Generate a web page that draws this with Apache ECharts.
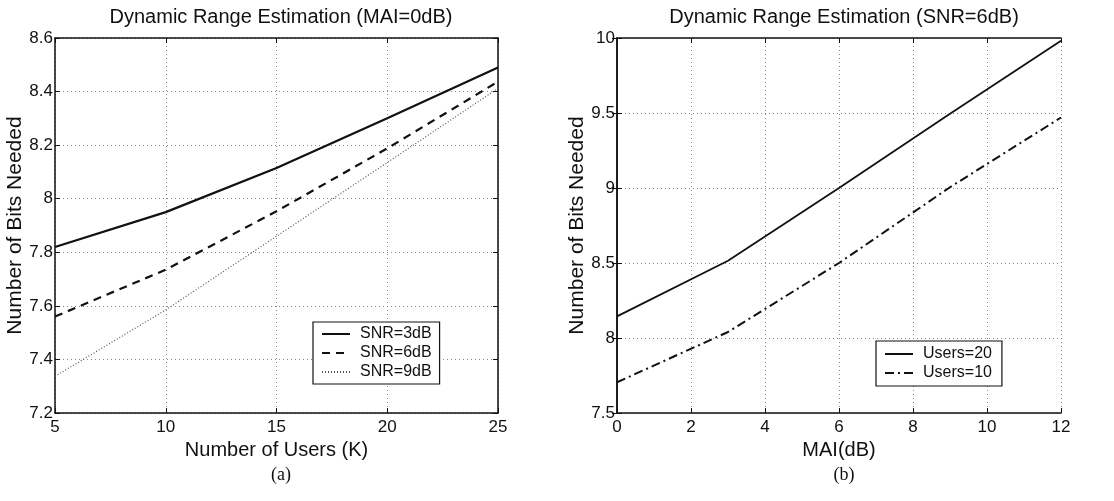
<!DOCTYPE html>
<html>
<head>
<meta charset="utf-8">
<script src="https://cdn.jsdelivr.net/npm/echarts@6/dist/echarts.min.js"></script>
<style>
  html, body { margin: 0; padding: 0; background: #fff; }
  #chart1 { width: 1114px; height: 501px; }
</style>
</head>
<body>
<div id="chart1"></div>
<script>
// (a) bits vs number of users, MAI = 0dB
var users = [5, 10, 15, 20, 25];
var snr3 = [7.82, 7.95, 8.115, 8.30, 8.49];
var snr6 = [7.56, 7.735, 7.953, 8.188, 8.437];
var snr9 = [7.337, 7.585, 7.86, 8.135, 8.412];

// (b) bits vs MAI, SNR = 6dB
var mai = [0, 3, 6, 9, 12];
var users20 = [8.144, 8.515, 9.0, 9.495, 9.982];
var users10 = [7.705, 8.04, 8.5, 9.005, 9.47];

function pairs(xs, ys) {
    return xs.map(function (x, i) { return [x, ys[i]]; });
}

var font = 'Liberation Sans';
var black = '#111';

var myChart = echarts.init(document.getElementById('chart1'));

// 公共坐标轴样式
function xAx(grid, min, max, step, name) {
    return {
        type: 'value', gridIndex: grid, min: min, max: max, interval: step,
        name: name, nameLocation: 'middle', nameGap: 22,
        nameTextStyle: { fontFamily: font, fontSize: 20, color: black },
        axisLine: { show: true, lineStyle: { color: black, width: 1.5 } },
        axisTick: { show: true, inside: true, length: 5, lineStyle: { color: black } },
        axisLabel: { fontFamily: font, fontSize: 17, color: black, margin: 6 },
        splitLine: { show: true, lineStyle: { color: '#888', type: [1, 3], width: 1 } }
    };
}
function yAx(grid, min, max, step, name) {
    return {
        type: 'value', gridIndex: grid, min: min, max: max, interval: step,
        name: name, nameLocation: 'middle', nameGap: 28,
        nameTextStyle: { fontFamily: font, fontSize: 21, color: black },
        axisLine: { show: true, lineStyle: { color: black, width: 1.5 } },
        axisTick: { show: true, inside: true, length: 5, lineStyle: { color: black } },
        axisLabel: { fontFamily: font, fontSize: 17, color: black, margin: 2 },
        splitLine: { show: true, lineStyle: { color: '#888', type: [1, 3], width: 1 } }
    };
}
// 上边和右边的刻度（无标签）
function frameX(grid, min, max, step) {
    return {
        type: 'value', gridIndex: grid, position: 'top', min: min, max: max, interval: step,
        axisLine: { show: true, lineStyle: { color: black, width: 1.5 } },
        axisTick: { show: true, inside: true, length: 5, lineStyle: { color: black } },
        axisLabel: { show: false }, splitLine: { show: false }
    };
}
function frameY(grid, min, max, step) {
    return {
        type: 'value', gridIndex: grid, position: 'right', min: min, max: max, interval: step,
        axisLine: { show: true, lineStyle: { color: black, width: 1.5 } },
        axisTick: { show: true, inside: true, length: 5, lineStyle: { color: black } },
        axisLabel: { show: false }, splitLine: { show: false }
    };
}

var legendBase = {
    orient: 'vertical',
    backgroundColor: '#fff',
    borderColor: black,
    borderWidth: 1.2,
    borderRadius: 0,
    padding: [4, 8, 4, 8],
    itemWidth: 28,
    itemHeight: 14,
    itemGap: 3,
    itemStyle: { opacity: 0 },
    textStyle: { fontFamily: font, fontSize: 16, color: black, padding: [0, 0, 0, 5] }
};

var option = {
    animation: false,
    backgroundColor: '#fff',
    title: [
        { text: 'Dynamic Range Estimation (MAI=0dB)', left: 276, top: 2, textAlign: 'center',
          textStyle: { fontFamily: font, fontSize: 20, fontWeight: 'normal', color: black } },
        { text: 'Dynamic Range Estimation (SNR=6dB)', left: 839, top: 2, textAlign: 'center',
          textStyle: { fontFamily: font, fontSize: 20, fontWeight: 'normal', color: black } },
        { text: '(a)', left: 276, top: 461, textAlign: 'center',
          textStyle: { fontFamily: 'Liberation Serif', fontSize: 18, fontWeight: 'normal', color: black } },
        { text: '(b)', left: 839, top: 461, textAlign: 'center',
          textStyle: { fontFamily: 'Liberation Serif', fontSize: 18, fontWeight: 'normal', color: black } }
    ],
    grid: [
        { left: 55, top: 38, width: 443, height: 375 },
        { left: 617, top: 38, width: 444, height: 375 }
    ],
    xAxis: [
        xAx(0, 5, 25, 5, 'Number of Users (K)'),
        xAx(1, 0, 12, 2, 'MAI(dB)'),
        frameX(0, 5, 25, 5),
        frameX(1, 0, 12, 2)
    ],
    yAxis: [
        yAx(0, 7.2, 8.6, 0.2, 'Number of Bits Needed'),
        yAx(1, 7.5, 10, 0.5, 'Number of Bits Needed'),
        frameY(0, 7.2, 8.6, 0.2),
        frameY(1, 7.5, 10, 0.5)
    ],
    legend: [
        Object.assign({}, legendBase, { left: 313, top: 322, data: ['SNR=3dB', 'SNR=6dB', 'SNR=9dB'] }),
        Object.assign({}, legendBase, { left: 876, top: 341, padding: [5, 10, 5, 8], data: ['Users=20', 'Users=10'] })
    ],
    series: [
        { name: 'SNR=3dB', type: 'line', xAxisIndex: 0, yAxisIndex: 0, symbol: 'none',
          data: pairs(users, snr3), lineStyle: { color: black, width: 2.2, type: 'solid' }, itemStyle: { color: black } },
        { name: 'SNR=6dB', type: 'line', xAxisIndex: 0, yAxisIndex: 0, symbol: 'none',
          data: pairs(users, snr6), lineStyle: { color: black, width: 2.2, type: [8, 6] }, itemStyle: { color: black } },
        { name: 'SNR=9dB', type: 'line', xAxisIndex: 0, yAxisIndex: 0, symbol: 'none',
          data: pairs(users, snr9), lineStyle: { color: '#555', width: 1.2, type: [1, 2] }, itemStyle: { color: '#555' } },
        { name: 'Users=20', type: 'line', xAxisIndex: 1, yAxisIndex: 1, symbol: 'none',
          data: pairs(mai, users20), lineStyle: { color: black, width: 1.8, type: 'solid' }, itemStyle: { color: black } },
        { name: 'Users=10', type: 'line', xAxisIndex: 1, yAxisIndex: 1, symbol: 'none',
          data: pairs(mai, users10), lineStyle: { color: black, width: 2, type: [9, 4, 2, 4] }, itemStyle: { color: black } }
    ]
};

myChart.setOption(option);
</script>
</body>
</html>
